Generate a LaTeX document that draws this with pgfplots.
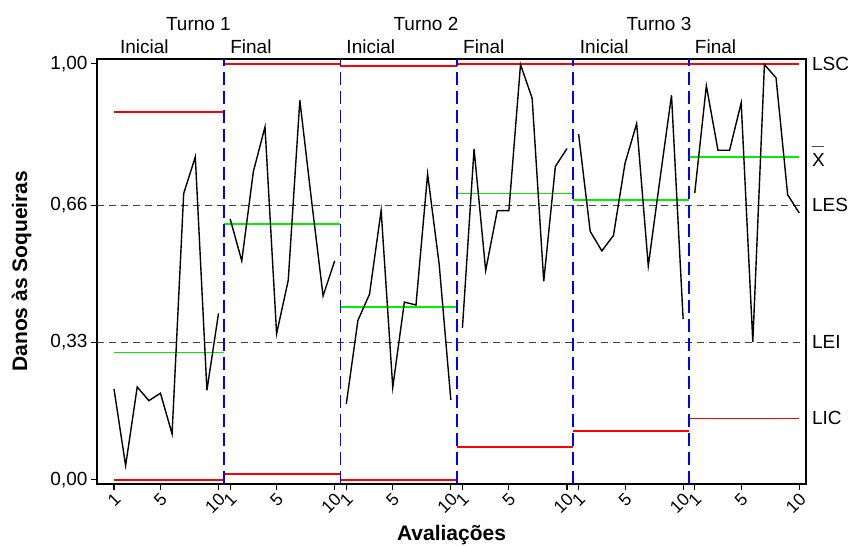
\documentclass[border=0pt]{standalone}
\usepackage{fontspec}
\setmainfont{Liberation Sans}
\usepackage{pgfplots}
\pgfplotsset{compat=1.18}
\definecolor{limred}{HTML}{FF0000}
\definecolor{cgreen}{HTML}{00F000}
\definecolor{sblue}{HTML}{0000FF}
\newcommand{\lbl}{\fontsize{19bp}{22bp}\selectfont}
\newcommand{\slbl}{\fontsize{17.5bp}{20bp}\selectfont}
\newcommand{\blbl}{\fontsize{21bp}{24bp}\selectfont\bfseries}

\begin{document}
\begin{tikzpicture}
\useasboundingbox (-97bp,-62bp) rectangle (756bp,484bp);
\begin{axis}[
  at={(0,0)}, anchor=south west,
  scale only axis, width=709bp, height=425bp,
  xmin=-0.464, xmax=60.58, ymin=-0.0103, ymax=1.0113,
  axis line style={line width=1.3bp},
  xtick={1,5,10,11,15,20,21,25,30,31,35,40,41,45,50,51,55,60},
  xticklabels={1,5,10,1,5,10,1,5,10,1,5,10,1,5,10,1,5,10},
  ytick={0,0.33,0.66,1},
  yticklabels={{0,00},{0,33},{0,66},{1,00}},
  tick align=outside, xtick pos=bottom, ytick pos=left,
  major tick length=6bp,
  tick style={black, line width=1.1bp},
  yticklabel style={font=\lbl},
  xticklabel style={font=\slbl, rotate=45, anchor=east, yshift=-7bp, inner sep=2bp},
  clip=false,
]
% specification limits
\addplot[black!75, line width=1.2bp, dash pattern=on 7bp off 5bp] coordinates {(-0.464,0.66) (60.58,0.66)};
\addplot[black!75, line width=1.2bp, dash pattern=on 7bp off 5bp] coordinates {(-0.464,0.33) (60.58,0.33)};

% control limits per stage
\addplot[limred, line width=1.8bp] coordinates {(1,0.883) (10.5,0.883)};
\addplot[limred, line width=1.8bp] coordinates {(1,0.000) (10.5,0.000)};
\addplot[cgreen, line width=1.8bp] coordinates {(1,0.306) (10.5,0.306)};
\addplot[limred, line width=1.8bp] coordinates {(10.5,1.000) (20.5,1.000)};
\addplot[limred, line width=1.8bp] coordinates {(10.5,0.014) (20.5,0.014)};
\addplot[cgreen, line width=1.8bp] coordinates {(10.5,0.614) (20.5,0.614)};
\addplot[limred, line width=1.8bp] coordinates {(20.5,0.995) (30.5,0.995)};
\addplot[limred, line width=1.8bp] coordinates {(20.5,0.000) (30.5,0.000)};
\addplot[cgreen, line width=1.8bp] coordinates {(20.5,0.416) (30.5,0.416)};
\addplot[limred, line width=1.8bp] coordinates {(30.5,1.000) (40.5,1.000)};
\addplot[limred, line width=1.8bp] coordinates {(30.5,0.079) (40.5,0.079)};
\addplot[cgreen, line width=1.8bp] coordinates {(30.5,0.688) (40.5,0.688)};
\addplot[limred, line width=1.8bp] coordinates {(40.5,1.000) (50.5,1.000)};
\addplot[limred, line width=1.8bp] coordinates {(40.5,0.118) (50.5,0.118)};
\addplot[cgreen, line width=1.8bp] coordinates {(40.5,0.673) (50.5,0.673)};
\addplot[limred, line width=1.8bp] coordinates {(50.5,1.000) (60,1.000)};
\addplot[limred, line width=1.8bp] coordinates {(50.5,0.147) (60,0.147)};
\addplot[cgreen, line width=1.8bp] coordinates {(50.5,0.776) (60,0.776)};

% stage separators
\foreach \s in {10.5,20.5,30.5,40.5,50.5} {
  \edef\tmp{\noexpand\addplot[sblue, line width=1.8bp, dash pattern=on 13bp off 6bp]
    coordinates {(\s,-0.0103) (\s,1.0113)};}
  \tmp
}

% observations
\addplot[black, line width=1.4bp] coordinates {
  (1,0.218) (2,0.034) (3,0.223) (4,0.190) (5,0.208)
  (6,0.110) (7,0.688) (8,0.776) (9,0.215) (10,0.400)};
\addplot[black, line width=1.4bp] coordinates {
  (11,0.627) (12,0.526) (13,0.741) (14,0.848) (15,0.351)
  (16,0.479) (17,0.912) (18,0.673) (19,0.442) (20,0.526)};
\addplot[black, line width=1.4bp] coordinates {
  (21,0.182) (22,0.383) (23,0.446) (24,0.647) (25,0.222)
  (26,0.427) (27,0.420) (28,0.735) (29,0.517) (30,0.192)};
\addplot[black, line width=1.4bp] coordinates {
  (31,0.365) (32,0.795) (33,0.503) (34,0.647) (35,0.647)
  (36,0.998) (37,0.917) (38,0.477) (39,0.753) (40,0.796)};
\addplot[black, line width=1.4bp] coordinates {
  (41,0.831) (42,0.597) (43,0.550) (44,0.587) (45,0.761)
  (46,0.856) (47,0.514) (48,0.721) (49,0.924) (50,0.386)};
\addplot[black, line width=1.4bp] coordinates {
  (51,0.689) (52,0.947) (53,0.792) (54,0.792) (55,0.906)
  (56,0.331) (57,0.998) (58,0.966) (59,0.685) (60,0.641)};

% stage names
\node[anchor=base, font=\lbl, inner sep=0] at (axis cs:8.27,1.080) {Turno 1};
\node[anchor=base, font=\lbl, inner sep=0] at (axis cs:27.86,1.080) {Turno 2};
\node[anchor=base, font=\lbl, inner sep=0] at (axis cs:47.92,1.080) {Turno 3};
\node[anchor=base west, font=\lbl, inner sep=0] at (axis cs:1.5,1.024) {Inicial};
\node[anchor=base west, font=\lbl, inner sep=0] at (axis cs:11,1.024) {Final};
\node[anchor=base west, font=\lbl, inner sep=0] at (axis cs:21,1.024) {Inicial};
\node[anchor=base west, font=\lbl, inner sep=0] at (axis cs:31.05,1.024) {Final};
\node[anchor=base west, font=\lbl, inner sep=0] at (axis cs:41.1,1.024) {Inicial};
\node[anchor=base west, font=\lbl, inner sep=0] at (axis cs:51,1.024) {Final};

% limit names
\node[anchor=west, font=\lbl, inner sep=0] at (axis cs:61.09,1.0) {LSC};
\node[anchor=base west, font=\lbl, inner sep=0] at (axis cs:61.09,0.753) {\rlap{\raisebox{19bp}{\color{black!70}\rule{12bp}{1.3bp}}}X};
\node[anchor=west, font=\lbl, inner sep=0] at (axis cs:61.09,0.66) {LES};
\node[anchor=west, font=\lbl, inner sep=0] at (axis cs:61.09,0.33) {LEI};
\node[anchor=west, font=\lbl, inner sep=0] at (axis cs:61.09,0.149) {LIC};

% axis titles
\node[anchor=base, font=\blbl, inner sep=0] at (axis cs:30.06,-0.1466) {Avaliações};
\node[anchor=base, rotate=90, font=\blbl, inner sep=0] at (axis cs:-6.49,0.501) {Danos às Soqueiras};
\end{axis}
\end{tikzpicture}
\end{document}
